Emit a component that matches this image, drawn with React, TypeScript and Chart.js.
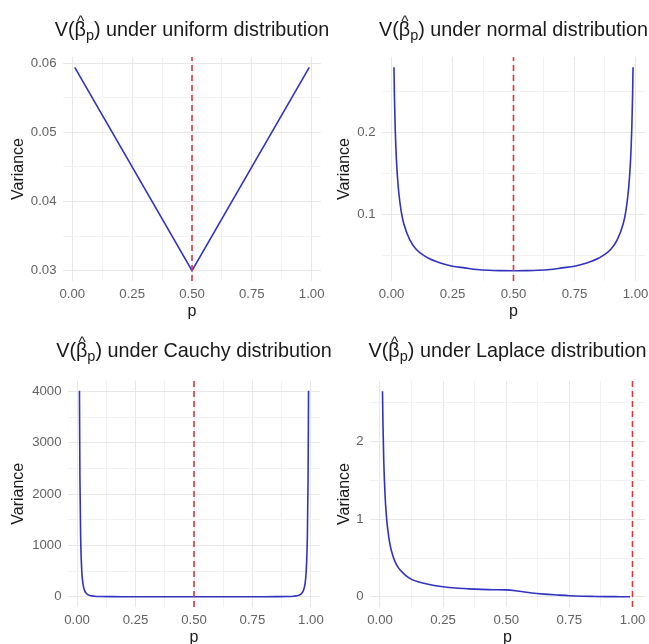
import React, { useEffect, useRef } from 'react';
import { Chart, registerables } from 'chart.js';
Chart.register(...registerables);

const FONT = "'Liberation Sans', Arial, Helvetica, sans-serif";

// ---- shared x axis ----
const xTickValues = [0, 0.25, 0.5, 0.75, 1];
const xTickLabels = ['0.00', '0.25', '0.50', '0.75', '1.00'];
const xMinorValues = [0.125, 0.375, 0.625, 0.875];

// ---- uniform ----
const pUniform = [0.01, 0.25, 0.5, 0.75, 0.99];
const vUniform = [0.0594, 0.045, 0.03, 0.045, 0.0594];
const uniformYTicks = [0.03, 0.04, 0.05, 0.06];
const uniformYLabels = ['0.03', '0.04', '0.05', '0.06'];
const uniformYMinor = [0.035, 0.045, 0.055];

// ---- symmetric p grid for normal / Cauchy ----
const pSym = [0.01, 0.012, 0.015, 0.02, 0.025, 0.03, 0.04, 0.05, 0.075, 0.1, 0.15, 0.2, 0.25, 0.3, 0.35, 0.4, 0.45, 0.5,
  0.55, 0.6, 0.65, 0.7, 0.75, 0.8, 0.85, 0.9, 0.925, 0.95, 0.96, 0.97, 0.975, 0.98, 0.985, 0.988, 0.99];

// ---- normal ----
const vNormal = [0.279, 0.243, 0.206, 0.167, 0.143, 0.126, 0.103, 0.089, 0.069, 0.058, 0.047, 0.041, 0.037, 0.035, 0.033, 0.032, 0.0316, 0.0314,
  0.0316, 0.032, 0.033, 0.035, 0.037, 0.041, 0.047, 0.058, 0.069, 0.089, 0.103, 0.126, 0.143, 0.167, 0.206, 0.243, 0.279];
const normalYTicks = [0.1, 0.2];
const normalYLabels = ['0.1', '0.2'];
const normalYMinor = [0.05, 0.15, 0.25];

// ---- Cauchy ----
const vCauchy = [4015, 2319, 1185, 498, 254, 146, 61, 31, 9.2, 3.9, 1.2, 0.53, 0.3, 0.19, 0.14, 0.12, 0.1, 0.099,
  0.1, 0.12, 0.14, 0.19, 0.3, 0.53, 1.2, 3.9, 9.2, 31, 61, 146, 254, 498, 1185, 2319, 4015];
const cauchyYTicks = [0, 1000, 2000, 3000, 4000];
const cauchyYLabels = ['0', '1000', '2000', '3000', '4000'];
const cauchyYMinor = [500, 1500, 2500, 3500];

// ---- Laplace ----
const pLaplace = [0.01, 0.012, 0.015, 0.02, 0.025, 0.03, 0.04, 0.05, 0.06, 0.07, 0.08, 0.1, 0.125, 0.15, 0.2, 0.25, 0.3, 0.35, 0.4, 0.45, 0.5,
  0.55, 0.6, 0.65, 0.7, 0.75, 0.8, 0.85, 0.9, 0.95, 0.99];
const vLaplace = [2.65, 2.2, 1.75, 1.32, 1.06, 0.89, 0.67, 0.54, 0.45, 0.39, 0.345, 0.28, 0.225, 0.195, 0.155, 0.13, 0.113, 0.103, 0.096, 0.092, 0.09,
  0.072, 0.05, 0.035, 0.024, 0.014, 0.008, 0.005, 0.003, 0.002, 0.001];
const laplaceYTicks = [0, 1, 2];
const laplaceYLabels = ['0', '1', '2'];
const laplaceYMinor = [0.5, 1.5, 2.5];

// vertical reference lines
const vlineUniform = 0.5;
const vlineNormal = 0.5;
const vlineCauchy = 0.5;
const vlineLaplace = 1.0;

type PanelCfg = {
  dist: string;
  p: number[]; v: number[]; smooth: boolean;
  yTicks: number[]; yLabels: string[]; yMinor: number[];
  yMin: number; yMax: number; xMin: number; xMax: number;
  vline: number;
  box: { left: number; top: number; w: number; h: number };
  area: { l: number; r: number; t: number; b: number };
  yTitleX: number; pTitleY: number; titleBase: number;
};

const panels: PanelCfg[] = [
  {
    dist: 'uniform', p: pUniform, v: vUniform, smooth: false, yTicks: uniformYTicks, yLabels: uniformYLabels, yMinor: uniformYMinor,
    yMin: 0.0285, yMax: 0.0609, xMin: -0.039, xMax: 1.039, vline: vlineUniform,
    box: { left: 0, top: 0, w: 340, h: 322 }, area: { l: 63, r: 321, t: 57, b: 281 },
    yTitleX: 18.8, pTitleY: 311.7, titleBase: 36,
  },
  {
    dist: 'normal', p: pSym, v: vNormal, smooth: true, yTicks: normalYTicks, yLabels: normalYLabels, yMinor: normalYMinor,
    yMin: 0.019, yMax: 0.2914, xMin: -0.039, xMax: 1.039, vline: vlineNormal,
    box: { left: 324, top: 0, w: 340, h: 322 }, area: { l: 58, r: 321, t: 57, b: 281 },
    yTitleX: 20.5, pTitleY: 311.7, titleBase: 36,
  },
  {
    dist: 'Cauchy', p: pSym, v: vCauchy, smooth: true, yTicks: cauchyYTicks, yLabels: cauchyYLabels, yMinor: cauchyYMinor,
    yMin: -200.7, yMax: 4215.7, xMin: -0.039, xMax: 1.039, vline: vlineCauchy,
    box: { left: 0, top: 322, w: 340, h: 322 }, area: { l: 68, r: 320, t: 58.5, b: 285 },
    yTitleX: 19, pTitleY: 315.7, titleBase: 35,
  },
  {
    dist: 'Laplace', p: pLaplace, v: vLaplace, smooth: true, yTicks: laplaceYTicks, yLabels: laplaceYLabels, yMinor: laplaceYMinor,
    yMin: -0.131, yMax: 2.782, xMin: -0.0395, xMax: 1.0495, vline: vlineLaplace,
    box: { left: 324, top: 322, w: 340, h: 322 }, area: { l: 46, r: 321, t: 59, b: 285 },
    yTitleX: 20.5, pTitleY: 315.7, titleBase: 35,
  },
];

const TICK_COLOR = '#636363';
const TEXT_COLOR = '#1a1a1a';
const MAJOR_GRID = '#e8e8e8';
const MINOR_GRID = '#f2f2f2';

function near(a: number, list: number[]) {
  return list.findIndex((v) => Math.abs(v - a) < 1e-9);
}

function makeTitlePlugin(dist: string, baseline: number) {
  return {
    id: 'panelTitle',
    afterDraw(chart: any) {
      const ctx = chart.ctx as CanvasRenderingContext2D;
      const area = chart.chartArea;
      const big = `19.8px ${FONT}`;
      const sub = `14.5px ${FONT}`;
      const hatF = `15.5px ${FONT}`;
      ctx.save();
      ctx.fillStyle = TEXT_COLOR;
      ctx.textBaseline = 'alphabetic';
      ctx.textAlign = 'left';
      ctx.font = big;
      const w1 = ctx.measureText('V(').width;
      const wb = ctx.measureText('β').width;
      const wc = ctx.measureText(')').width;
      const rest = ' under ' + dist + ' distribution';
      const wr = ctx.measureText(rest).width;
      ctx.font = sub;
      const wp = ctx.measureText('p').width;
      const total = w1 + wb + wp + wc + wr;
      let x = (area.left + area.right) / 2 - total / 2;
      ctx.font = big;
      ctx.fillText('V(', x, baseline);
      x += w1;
      ctx.fillText('β', x, baseline);
      const betaCenter = x + wb / 2;
      x += wb;
      ctx.font = sub;
      ctx.fillText('p', x, baseline + 3.5);
      x += wp;
      ctx.font = big;
      ctx.fillText(')', x, baseline);
      x += wc;
      ctx.fillText(rest, x, baseline);
      ctx.font = hatF;
      ctx.textAlign = 'center';
      ctx.fillText('^', betaCenter + 0.5, baseline - 10.5);
      ctx.restore();
    },
  };
}

function Panel({ cfg }: { cfg: PanelCfg }) {
  const ref = useRef<HTMLCanvasElement>(null);
  useEffect(() => {
    const { box, area } = cfg;
    const xH = box.h - area.b;
    const xTitleLH = 2 * (box.h - cfg.pTitleY);
    const allX = [...xTickValues, ...xMinorValues].sort((a, b) => a - b);
    const allY = [...cfg.yTicks, ...cfg.yMinor].sort((a, b) => a - b);
    const tickFont = { family: FONT, size: 13.2 };
    const curve: any = {
      data: cfg.p.map((x, i) => ({ x, y: cfg.v[i] })),
      borderColor: '#3232bf',
      borderWidth: 1.6,
      pointRadius: 0,
      fill: false,
      tension: 0,
    };
    if (cfg.smooth) curve.cubicInterpolationMode = 'monotone';
    const chart = new Chart(ref.current as HTMLCanvasElement, {
      type: 'line',
      data: {
        datasets: [
          {
            data: [{ x: cfg.vline, y: cfg.yMin }, { x: cfg.vline, y: cfg.yMax }],
            borderColor: '#d8383c',
            borderWidth: 1.6,
            borderDash: [6, 4],
            pointRadius: 0,
            fill: false,
          },
          curve,
        ],
      } as any,
      options: {
        animation: false,
        responsive: false,
        maintainAspectRatio: false,
        events: [],
        layout: {
          padding: { left: 0, top: area.t, right: box.w - area.r, bottom: 0 },
        },
        plugins: {
          legend: { display: false },
          tooltip: { enabled: false },
          title: { display: false },
        },
        scales: {
          x: {
            type: 'linear',
            min: cfg.xMin,
            max: cfg.xMax,
            afterFit: (s: any) => { s.height = xH; },
            afterBuildTicks: (s: any) => { s.ticks = allX.map((value) => ({ value })); },
            ticks: {
              autoSkip: false,
              maxRotation: 0,
              minRotation: 0,
              padding: 5,
              color: TICK_COLOR,
              font: tickFont,
              callback: (val: any) => {
                const i = near(Number(val), xTickValues);
                return i >= 0 ? xTickLabels[i] : '';
              },
            },
            grid: {
              drawTicks: false,
              lineWidth: 1,
              color: (c: any) => (c.tick && near(c.tick.value, xTickValues) >= 0 ? MAJOR_GRID : MINOR_GRID),
            },
            border: { display: false },
            title: {
              display: true,
              text: 'p',
              color: TEXT_COLOR,
              padding: 0,
              font: { family: FONT, size: 16, lineHeight: `${xTitleLH}px` },
            },
          },
          y: {
            type: 'linear',
            min: cfg.yMin,
            max: cfg.yMax,
            afterFit: (s: any) => { s.width = area.l; },
            afterBuildTicks: (s: any) => { s.ticks = allY.map((value) => ({ value })); },
            ticks: {
              autoSkip: false,
              padding: 6.5,
              color: TICK_COLOR,
              font: tickFont,
              callback: (val: any) => {
                const i = near(Number(val), cfg.yTicks);
                return i >= 0 ? cfg.yLabels[i] : '';
              },
            },
            grid: {
              drawTicks: false,
              lineWidth: 1,
              color: (c: any) => (c.tick && near(c.tick.value, cfg.yTicks) >= 0 ? MAJOR_GRID : MINOR_GRID),
            },
            border: { display: false },
            title: {
              display: true,
              text: 'Variance',
              color: TEXT_COLOR,
              padding: 0,
              font: { family: FONT, size: 16, lineHeight: `${2 * cfg.yTitleX}px` },
            },
          },
        },
      } as any,
      plugins: [makeTitlePlugin(cfg.dist, cfg.titleBase)],
    });
    return () => chart.destroy();
  }, [cfg]);
  return (
    <canvas
      ref={ref}
      width={cfg.box.w}
      height={cfg.box.h}
      style={{ position: 'absolute', left: cfg.box.left, top: cfg.box.top, width: cfg.box.w, height: cfg.box.h }}
    />
  );
}

export default function App() {
  return (
    <div
      style={{
        position: 'absolute',
        left: 0,
        top: 0,
        width: 649,
        height: 644,
        overflow: 'hidden',
        background: '#ffffff',
      }}
    >
      {panels.map((cfg) => (
        <Panel key={cfg.dist} cfg={cfg} />
      ))}
    </div>
  );
}
